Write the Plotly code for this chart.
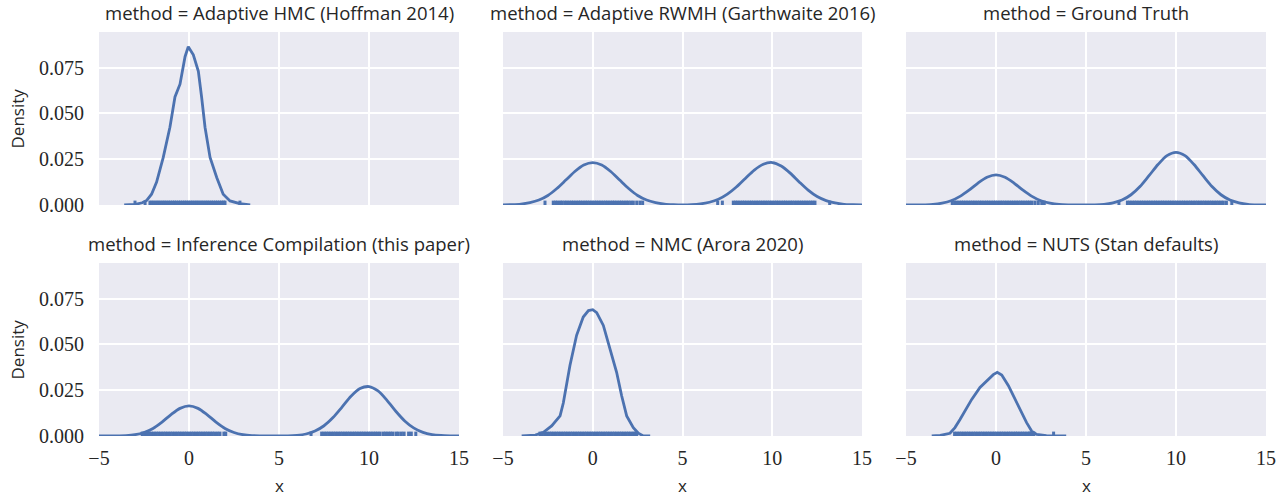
import plotly.graph_objects as go

# ---------------- data ----------------
methods = [
    "Adaptive HMC (Hoffman 2014)",
    "Adaptive RWMH (Garthwaite 2016)",
    "Ground Truth",
    "Inference Compilation (this paper)",
    "NMC (Arora 2020)",
    "NUTS (Stan defaults)",
]

# KDE curves: x positions and density values
hmc_x = [-3.6, -3.0, -2.6, -2.35, -2.08, -1.8, -1.43, -1.06, -0.78, -0.5, -0.22, -0.04,
         0.24, 0.52, 0.7, 0.89, 1.17, 1.54, 1.9, 2.28, 2.83, 3.4]
hmc_y = [0.0, 0.0003, 0.0012, 0.0025, 0.0059, 0.0125, 0.026, 0.0425, 0.059, 0.066, 0.081, 0.0865,
         0.082, 0.073, 0.059, 0.0425, 0.026, 0.015, 0.0059, 0.0022, 0.0007, 0.0]

grid_x = [-5, -4.5, -4, -3.5, -3, -2.5, -2, -1.5, -1, -0.5, 0, 0.5, 1, 1.5, 2, 2.5, 3, 3.5, 4, 4.5,
          5, 5.5, 6, 6.5, 7, 7.5, 8, 8.5, 9, 9.5, 10, 10.5, 11, 11.5, 12, 12.5, 13, 13.5, 14, 14.5, 15]

rwmh_y = [0.0001, 0.0002, 0.0005, 0.0013, 0.0027, 0.0052, 0.0090, 0.0136, 0.0183, 0.0219, 0.0232,
          0.0219, 0.0183, 0.0136, 0.0090, 0.0052, 0.0027, 0.0013, 0.0005, 0.0002,
          0.0001, 0.0002, 0.0006, 0.0015, 0.0031, 0.0059, 0.0098, 0.0145, 0.0191, 0.0223, 0.0232,
          0.0213, 0.0174, 0.0126, 0.0081, 0.0046, 0.0024, 0.0011, 0.0004, 0.0002, 0.0001]

truth_y = [0.0, 0.0, 0.0001, 0.0003, 0.0010, 0.0023, 0.0047, 0.0081, 0.0120, 0.0152, 0.0165,
           0.0152, 0.0120, 0.0081, 0.0047, 0.0023, 0.0010, 0.0003, 0.0001, 0.0001,
           0.0001, 0.0001, 0.0004, 0.0012, 0.0027, 0.0056, 0.0101, 0.0160, 0.0221, 0.0270, 0.0288,
           0.0270, 0.0221, 0.0160, 0.0101, 0.0056, 0.0027, 0.0012, 0.0004, 0.0001, 0.0]

ic_y = [0.0, 0.0, 0.0001, 0.0002, 0.0007, 0.0019, 0.0041, 0.0076, 0.0117, 0.0151, 0.0165,
        0.0151, 0.0117, 0.0076, 0.0041, 0.0019, 0.0007, 0.0002, 0.0001, 0.0001,
        0.0001, 0.0001, 0.0004, 0.0011, 0.0027, 0.0056, 0.0101, 0.0158, 0.0217, 0.0259, 0.0270,
        0.0246, 0.0195, 0.0134, 0.0081, 0.0043, 0.0020, 0.0008, 0.0003, 0.0001, 0.0]

nmc_x = [-3.96, -3.2, -2.75, -2.29, -1.82, -1.64, -1.27, -0.9, -0.53, -0.24, 0.0, 0.22, 0.59,
         0.96, 1.33, 1.61, 1.89, 2.26, 2.54, 2.82, 3.2]
nmc_y = [0.0, 0.0005, 0.002, 0.0055, 0.011, 0.018, 0.0385, 0.055, 0.065, 0.0685, 0.069, 0.0674,
         0.0604, 0.0476, 0.0348, 0.022, 0.011, 0.0046, 0.0015, 0.0, 0.0]

nuts_x = [-3.57, -3.1, -2.56, -2.28, -2.0, -1.35, -0.89, -0.52, -0.15, 0.07, 0.32, 0.69, 0.96,
          1.33, 1.7, 1.98, 2.26, 2.8, 3.9]
nuts_y = [0.0, 0.0003, 0.0015, 0.0046, 0.009, 0.020, 0.0265, 0.030, 0.0335, 0.0348, 0.0333,
          0.0275, 0.022, 0.0147, 0.0073, 0.0027, 0.0009, 0.0002, 0.0]

# rug samples (estimated positions)
hmc_rug = [-3.0, -2.44, -2.17, -2.06, -1.95, -1.83, -1.72, -1.61, -1.49, -1.38, -1.27, -1.15,
           -1.04, -0.92, -0.81, -0.7, -0.58, -0.47, -0.35, -0.24, -0.13, -0.02, 0.1, 0.21, 0.33,
           0.44, 0.55, 0.67, 0.78, 0.9, 1.01, 1.12, 1.24, 1.35, 1.47, 1.58, 1.7, 1.81, 1.92, 2.0, 2.83]
rwmh_rug = [-2.66, -2.2, -2.07, -1.95, -1.81, -1.7, -1.56, -1.44, -1.31, -1.18, -1.06, -0.93,
            -0.8, -0.68, -0.55, -0.42, -0.3, -0.17, -0.04, 0.08, 0.21, 0.34, 0.46, 0.59, 0.72,
            0.84, 0.97, 1.1, 1.22, 1.35, 1.48, 1.6, 1.73, 1.86, 1.98, 2.12, 2.26, 2.45, 2.63, 2.78,
            6.96, 7.22, 7.83, 7.96, 8.08, 8.21, 8.34, 8.46, 8.59, 8.72, 8.84, 8.97, 9.1, 9.22,
            9.35, 9.48, 9.6, 9.73, 9.86, 9.98, 10.11, 10.24, 10.36, 10.49, 10.62, 10.74, 10.87,
            11.0, 11.12, 11.25, 11.38, 11.5, 11.63, 11.76, 11.88, 12.01, 12.14, 12.26, 12.38, 13.2]
truth_rug = [-2.43, -2.3, -2.18, -2.05, -1.92, -1.8, -1.67, -1.55, -1.42, -1.29, -1.17, -1.04,
             -0.91, -0.79, -0.66, -0.53, -0.41, -0.28, -0.15, -0.03, 0.1, 0.23, 0.35, 0.48, 0.61,
             0.73, 0.86, 0.99, 1.11, 1.24, 1.37, 1.49, 1.62, 1.75, 1.87, 2.0, 2.17, 2.35, 2.54, 2.68,
             6.83, 7.3, 7.43, 7.56, 7.69, 7.82, 7.95, 8.08, 8.21, 8.34, 8.47, 8.6, 8.73, 8.86, 8.99,
             9.12, 9.25, 9.38, 9.51, 9.64, 9.77, 9.9, 10.03, 10.16, 10.29, 10.42, 10.55, 10.68,
             10.81, 10.94, 11.07, 11.2, 11.33, 11.46, 11.59, 11.72, 11.85, 11.98, 12.11, 12.24,
             12.37, 12.5, 12.63, 12.8, 13.1]
ic_rug = [-2.6, -2.47, -2.34, -2.21, -2.08, -1.95, -1.82, -1.69, -1.56, -1.43, -1.3, -1.17,
          -1.04, -0.91, -0.78, -0.65, -0.52, -0.39, -0.26, -0.13, 0.0, 0.13, 0.26, 0.39, 0.52,
          0.65, 0.78, 0.91, 1.04, 1.17, 1.3, 1.43, 1.58, 1.72, 1.94, 2.04,
          6.78, 7.37, 7.5, 7.63, 7.76, 7.89, 8.02, 8.15, 8.28, 8.41, 8.54, 8.67, 8.8, 8.93, 9.06,
          9.19, 9.32, 9.45, 9.58, 9.71, 9.84, 9.97, 10.1, 10.23, 10.36, 10.49, 10.62, 10.8,
          10.93, 11.06, 11.19, 11.32, 11.5, 11.63, 11.8, 11.95, 12.2, 12.35, 12.6]
nmc_rug = [-2.94, -2.81, -2.68, -2.55, -2.42, -2.29, -2.16, -2.03, -1.9, -1.77, -1.64, -1.51,
           -1.38, -1.25, -1.12, -0.99, -0.86, -0.73, -0.6, -0.47, -0.34, -0.21, -0.08, 0.05, 0.18,
           0.31, 0.44, 0.57, 0.7, 0.83, 0.96, 1.09, 1.22, 1.35, 1.48, 1.61, 1.74, 1.87, 2.0, 2.13,
           2.26, 2.36, 2.45]
nuts_rug = [-2.3, -2.17, -2.04, -1.91, -1.78, -1.65, -1.52, -1.39, -1.26, -1.13, -1.0, -0.87,
            -0.74, -0.61, -0.48, -0.35, -0.22, -0.09, 0.04, 0.17, 0.3, 0.43, 0.56, 0.69, 0.82,
            0.95, 1.08, 1.21, 1.34, 1.47, 1.6, 1.73, 1.86, 1.9, 2.0, 2.1, 3.2]

curves = [
    (hmc_x, hmc_y, hmc_rug, "linear"),
    (grid_x, rwmh_y, rwmh_rug, "spline"),
    (grid_x, truth_y, truth_rug, "spline"),
    (grid_x, ic_y, ic_rug, "spline"),
    (nmc_x, nmc_y, nmc_rug, "linear"),
    (nuts_x, nuts_y, nuts_rug, "linear"),
]

x_ticks = [-5, 0, 5, 10, 15]
x_ticktext = ["\u22125", "0", "5", "10", "15"]
y_ticks = [0, 0.025, 0.05, 0.075]
y_ticktext = ["0.000", "0.025", "0.050", "0.075"]

# ---------------- layout ----------------
W, H = 1283, 497
COLOR = "#4C72B0"
BG = "#EAEAF2"
TXT = "#262626"
SANS = "'Open Sans', 'DejaVu Sans', sans-serif"
SERIF = "'Liberation Serif', 'DejaVu Serif', serif"
RUG_H = 0.0024
Y_MAX = 0.0945

col_px = [(99, 459), (503, 862), (906, 1266)]
row_px = [(32, 205), (263, 436)]

fig = go.Figure()
layout = dict(
    width=W, height=H, margin=dict(l=0, r=0, t=0, b=0, autoexpand=False),
    paper_bgcolor="white", plot_bgcolor=BG, showlegend=False,
    annotations=[],
)

for i, (m, (cx, cy, rug, shape)) in enumerate(zip(methods, curves)):
    r, c = divmod(i, 3)
    n = i + 1
    xa = "xaxis" if n == 1 else f"xaxis{n}"
    ya = "yaxis" if n == 1 else f"yaxis{n}"
    xref = "x" if n == 1 else f"x{n}"
    yref = "y" if n == 1 else f"y{n}"
    x0, x1 = col_px[c]
    y0, y1 = row_px[r]
    layout[xa] = dict(
        domain=[x0 / W, x1 / W], range=[-5, 15], anchor=yref, automargin=False,
        tickvals=x_ticks, ticktext=x_ticktext, showticklabels=(r == 1),
        showgrid=True, gridcolor="white", gridwidth=2, zeroline=False,
        showline=False, ticks="", ticklabelstandoff=8,
        tickfont=dict(family=SERIF, size=20, color=TXT),
    )
    layout[ya] = dict(
        domain=[(H - y1) / H, (H - y0) / H], range=[0, Y_MAX], anchor=xref, automargin=False,
        tickvals=y_ticks, ticktext=y_ticktext, showticklabels=(c == 0),
        showgrid=True, gridcolor="white", gridwidth=2, zeroline=False,
        showline=False, ticks="", ticklabelstandoff=14,
        tickfont=dict(family=SERIF, size=20, color=TXT),
    )
    fig.add_trace(go.Scatter(
        x=cx, y=cy, mode="lines", xaxis=xref, yaxis=yref,
        line=dict(color=COLOR, width=2.8, shape=shape, smoothing=0.8),
        hoverinfo="skip",
    ))
    rx, ry = [], []
    for v in rug:
        rx += [v, v, None]
        ry += [0, RUG_H, None]
    fig.add_trace(go.Scatter(
        x=rx, y=ry, mode="lines", xaxis=xref, yaxis=yref,
        line=dict(color=COLOR, width=3), hoverinfo="skip",
    ))
    layout["annotations"].append(dict(
        text=f"method = {m}", x=(x0 + x1) / 2 / W, y=(H - (y0 - 20)) / H,
        xref="paper", yref="paper", showarrow=False, xanchor="center", yanchor="middle",
        font=dict(family=SANS, size=18.5, color=TXT),
    ))
    if r == 1:
        layout["annotations"].append(dict(
            text="x", x=(x0 + x1) / 2 / W, y=(H - 485) / H, borderpad=0,
            xref="paper", yref="paper", showarrow=False, xanchor="center", yanchor="middle",
            font=dict(family=SANS, size=17, color=TXT),
        ))
    if c == 0:
        layout["annotations"].append(dict(
            text="Density", x=17 / W, y=(H - (y0 + y1) / 2) / H, textangle=-90,
            xref="paper", yref="paper", showarrow=False, xanchor="center", yanchor="middle",
            font=dict(family=SANS, size=17, color=TXT),
        ))

fig.update_layout(**layout)
fig.write_html(
    "out.html",
    config={"displayModeBar": False},
    post_script="document.body.style.margin='0';document.body.style.padding='0';",
)
